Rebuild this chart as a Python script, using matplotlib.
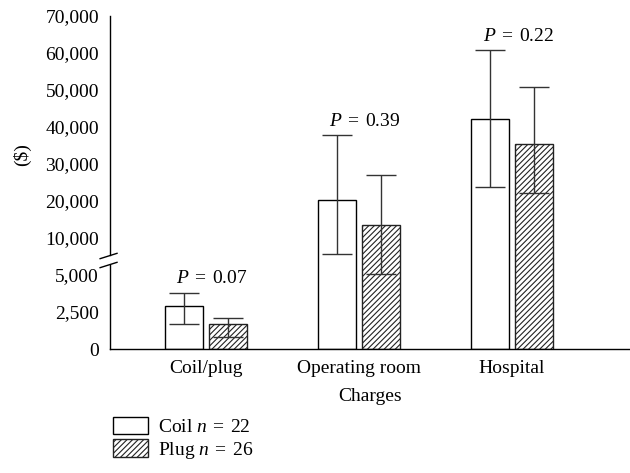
import matplotlib
matplotlib.use("Agg")
import matplotlib.pyplot as plt
import numpy as np
from matplotlib.ticker import FuncFormatter
import matplotlib.transforms as mtransforms

plt.rcParams['font.family'] = ['Liberation Serif', 'DejaVu Serif']
plt.rcParams['mathtext.fontset'] = 'custom'
plt.rcParams['mathtext.rm'] = 'Liberation Serif'
plt.rcParams['mathtext.it'] = 'Liberation Serif:italic'
plt.rcParams['hatch.linewidth'] = 0.8

SP = "\u2004"

categories = ["Coil/plug", "Operating room", "Hospital"]
coil_mean = [2925, 20270, 42160]
coil_low = [1690, 7900, 23860]
coil_high = [3800, 37840, 60800]
plug_mean = [1670, 13510, 35400]
plug_low = [830, 5100, 22100]
plug_high = [2115, 27030, 50700]
p_values = ["0.07", "0.39", "0.22"]
yticks = [0, 2500, 5000, 10000, 20000, 30000, 40000, 50000, 60000, 70000]
legend_labels = ["Coil $n$" + SP + "=" + SP + "22", "Plug $n$" + SP + "=" + SP + "26"]


def fwd(v):
    v = np.asarray(v, dtype=float)
    return np.where(v <= 5000, v / 2500.0,
                    np.where(v <= 10000, 2 + (v - 5000) / 5000.0, 2 + v / 10000.0))


def inv(f):
    f = np.asarray(f, dtype=float)
    return np.where(f <= 2, f * 2500.0,
                    np.where(f <= 3, 5000 + (f - 2) * 5000.0, (f - 2) * 10000.0))


fig = plt.figure(figsize=(6.3, 4.73), dpi=100)
ax = fig.add_axes([110 / 630, 124 / 473, 520 / 630, 333 / 473])
ax.set_yscale('function', functions=(fwd, inv))

x = np.arange(len(categories))
w = 0.246
off = 0.142
fs = 14

coil_err = [np.array(coil_mean) - np.array(coil_low), np.array(coil_high) - np.array(coil_mean)]
plug_err = [np.array(plug_mean) - np.array(plug_low), np.array(plug_high) - np.array(plug_mean)]
ekw = dict(ecolor='#333333', elinewidth=1.0, capsize=11, capthick=1.0)

b1 = ax.bar(x - off, coil_mean, w, color='white', edgecolor='black', linewidth=1.0,
            yerr=coil_err, error_kw=ekw, label=legend_labels[0])
b2 = ax.bar(x + off, plug_mean, w, color='white', edgecolor='#222222', linewidth=1.0,
            hatch='//////', yerr=plug_err, error_kw=ekw, label=legend_labels[1])

for i, p in enumerate(p_values):
    ax.annotate("$P$" + SP + "=" + SP + p, xy=(x[i] + 0.04, coil_high[i]), xytext=(0, 10),
                textcoords='offset points', ha='center', va='center', fontsize=fs)

ax.set_xlim(-0.627, 2.771)
ax.set_ylim(0, 70000)
ax.set_yticks(yticks)
ax.yaxis.set_major_formatter(FuncFormatter(lambda v, _: f"{int(round(v)):,}"))
ax.set_xticks(x)
ax.set_xticklabels(categories)
ax.tick_params(axis='both', length=0, labelsize=fs)
ax.tick_params(axis='y', pad=8)
ax.tick_params(axis='x', pad=8)
ax.set_xlabel("Charges", fontsize=fs, labelpad=8)

for s in ['top', 'right', 'left']:
    ax.spines[s].set_visible(False)
ax.spines['bottom'].set_linewidth(1.0)

# broken left spine
tr = mtransforms.blended_transform_factory(ax.transAxes, ax.transData)
ax.plot([0, 0], [0, 6300], transform=tr, color='black', lw=1.0, clip_on=False)
ax.plot([0, 0], [7700, 70000], transform=tr, color='black', lw=1.0, clip_on=False)
for yc in [(349 - 256) / 333, (349 - 265) / 333]:
    ax.plot([-0.019, 0.0135], [yc - 0.008, yc + 0.008], transform=ax.transAxes,
            color='black', lw=1.0, clip_on=False)

fig.text(22 / 630, 1 - 155 / 473, "($)", rotation=90, ha='center', va='center', fontsize=fs)

leg = fig.legend(handles=[b1, b2], labels=legend_labels, loc='upper left',
                 bbox_to_anchor=(113 / 630, 1 - 417 / 473), frameon=False, fontsize=fs,
                 handlelength=1.8, handleheight=1.0, handletextpad=0.5,
                 labelspacing=0.15, borderpad=0, borderaxespad=0)

fig.savefig("out.png", dpi=100)
